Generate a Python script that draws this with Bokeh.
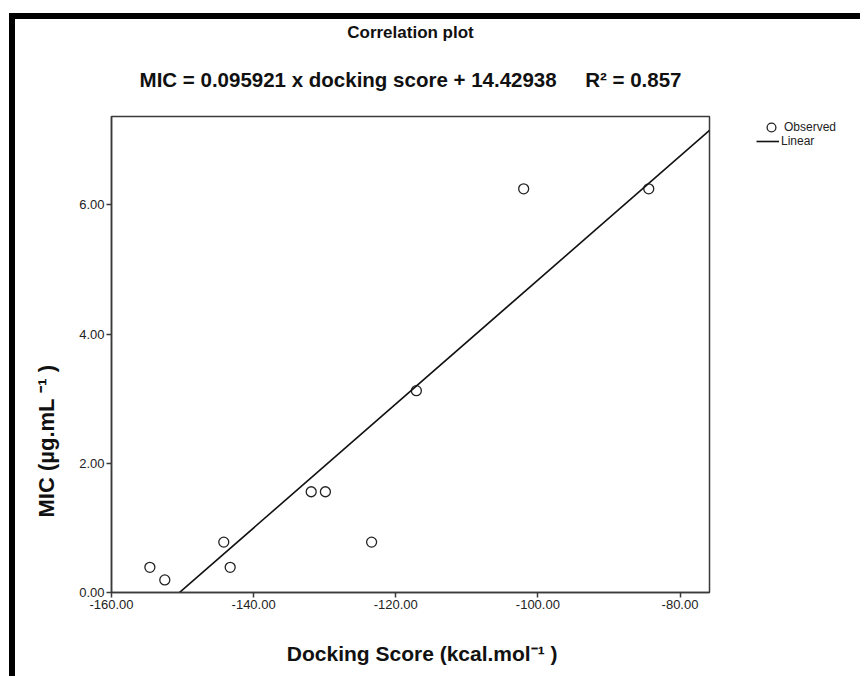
import numpy as np
from bokeh.plotting import figure
from bokeh.layouts import row
from bokeh.models import (Range1d, FixedTicker, NumeralTickFormatter, Title,
                          Legend, LegendItem)
from bokeh.embed import file_html
from bokeh.resources import INLINE

# ---- data ----
docking_score = [-154.6, -152.5, -144.2, -143.3, -131.9, -129.9, -123.4, -117.1, -102.0, -84.4]
mic = [0.39, 0.195, 0.78, 0.39, 1.56, 1.56, 0.78, 3.125, 6.25, 6.25]
slope = 0.095921
intercept = 14.42938
r_squared = 0.857
x_ticks = [-160, -140, -120, -100, -80]
y_ticks = [0, 2, 4, 6]
x_lim = [-160.0, -75.85]
y_lim = [0.0, 7.37]
legend_labels = ["Observed", "Linear"]

title_text = "Correlation plot"
subtitle_text = ("MIC = %.6f x docking score + %.5f" % (slope, intercept)
                 + " \u00a0\u00a0\u00a0 " + "R\u00b2 = %.3f" % r_squared)
x_label = "\u00a0\u00a0\u00a0\u00a0Docking Score (kcal.mol\u207b\u00b9 )"
y_label = "MIC (\u00b5g.mL \u207b\u00b9 )"

H = 663
FL, FT, FR, FB = 96, 97, 694, 573
FH = FB - FT
W_MAIN = FR + 10
W_LEG = 851 - W_MAIN

SANS = "'Liberation Sans', Arial, sans-serif"
INK = "#111111"
AXC = "#3a3a3a"

p = figure(width=W_MAIN, height=H, output_backend="svg", toolbar_location=None,
           x_range=Range1d(*x_lim), y_range=Range1d(*y_lim),
           min_border_left=FL, min_border_right=W_MAIN - FR,
           min_border_top=FT, min_border_bottom=H - FB,
           title=title_text)
p.styles = {"border-top": "6px solid black", "border-left": "6px solid black",
            "margin-top": "13px", "margin-left": "9px"}

# main title (outermost)
p.title.align = "center"
p.title.vertical_align = "middle"
p.title.text_font = SANS
p.title.text_font_style = "bold"
p.title.text_font_size = "17px"
p.title.text_color = INK
p.title.standoff = 0

# equation subtitle (nearest the frame)
sub = Title(text=subtitle_text, align="center", vertical_align="middle",
            text_font=SANS, text_font_style="bold", text_font_size="20.5px",
            text_color=INK, standoff=49)
p.add_layout(sub, "above")

p.xgrid.visible = False
p.ygrid.visible = False
p.background_fill_color = "white"
p.border_fill_color = "white"
p.outline_line_color = AXC
p.outline_line_width = 1.5

for ax, ticks in ((p.xaxis[0], x_ticks), (p.yaxis[0], y_ticks)):
    ax.ticker = FixedTicker(ticks=ticks)
    ax.formatter = NumeralTickFormatter(format="0.00")
    ax.axis_line_color = AXC
    ax.axis_line_width = 1.5
    ax.major_tick_line_color = AXC
    ax.major_tick_line_width = 1.5
    ax.major_tick_in = 0
    ax.major_tick_out = 5
    ax.minor_tick_line_color = None
    ax.major_label_text_font = SANS
    ax.major_label_text_font_size = "13px"
    ax.major_label_text_color = "#222222"
    ax.major_label_standoff = 2

p.xaxis.axis_label = x_label
p.xaxis.axis_label_text_font = SANS
p.xaxis.axis_label_text_font_style = "bold"
p.xaxis.axis_label_text_font_size = "21px"
p.xaxis.axis_label_text_color = INK
p.xaxis.axis_label_standoff = 30

# y-axis title, placed a little below the frame's middle as in the reference
ytitle = Title(text=y_label, align="left", vertical_align="middle", offset=75,
               text_font=SANS, text_font_style="bold", text_font_size="22px",
               text_color=INK, standoff=34)
p.add_layout(ytitle, "left")

scatter_style = dict(marker="circle", fill_color="white", line_color="#222222", line_width=1.3)
line_style = dict(line_color=INK, line_width=1.6)

p.scatter(docking_score, mic, size=10, **scatter_style)
p.line(x_lim, [slope * x + intercept for x in x_lim], **line_style)

# ---- legend panel to the right of the chart (its frame is aligned with the chart's) ----
# its ranges are far from the data, so its own renderers stay out of view
pl = figure(width=W_LEG, height=H, output_backend="svg", toolbar_location=None,
            x_range=Range1d(1000, 1001), y_range=Range1d(1000, 1001),
            x_axis_type=None, y_axis_type=None, min_border=0)
pl.styles = {"border-top": "6px solid black", "margin-top": "13px"}
pl.outline_line_color = None
pl.background_fill_color = "white"
pl.border_fill_color = "white"

lg_sc = pl.scatter(docking_score, mic, size=10, **scatter_style)
lg_ln = pl.line(x_lim, [slope * x + intercept for x in x_lim], **line_style)

common = dict(padding=0, margin=0, spacing=0, label_standoff=2,
              border_line_color=None, background_fill_alpha=0,
              label_text_font=SANS, label_text_font_size="12px",
              label_text_color="#222222")
leg1 = Legend(items=[LegendItem(label=legend_labels[0], renderers=[lg_sc])],
              location=(47, FH - 22), glyph_width=22, glyph_height=22, label_height=22,
              **common)
leg2 = Legend(items=[LegendItem(label=legend_labels[1], renderers=[lg_ln])],
              location=(43, FH - 32), glyph_width=23, glyph_height=14, label_height=14,
              **common)
pl.add_layout(leg1, "center")
pl.add_layout(leg2, "center")

layout = row(p, pl)
open("out.html", "w").write(file_html(layout, INLINE))
